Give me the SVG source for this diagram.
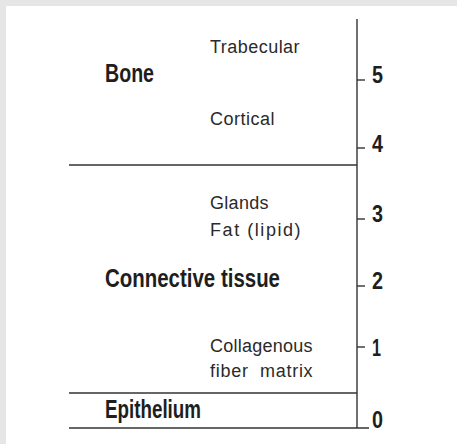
<svg xmlns="http://www.w3.org/2000/svg" width="457" height="444" viewBox="0 0 457 444">
<style>
.bg{fill:#e6e6e6}
.panel{fill:#ffffff}
.ln{stroke:#333333;stroke-width:1.4;fill:none}
.big{font-family:"Liberation Sans",Arial,sans-serif;font-weight:bold;font-size:26px;fill:#1e1e1e}
.num{font-family:"Liberation Sans",Arial,sans-serif;font-weight:bold;font-size:24px;fill:#1e1e1e}
.sm{font-family:"Liberation Sans",Arial,sans-serif;font-size:18px;letter-spacing:0.4px;fill:#2a2a2a;white-space:pre}
</style>
<rect class="bg" x="0" y="0" width="457" height="444"/>
<rect class="panel" x="6" y="6" width="451" height="438"/>
<g id="connectors">
<line class="ln" x1="357" y1="19" x2="357" y2="428"/>
<line class="ln" x1="69" y1="165" x2="357" y2="165"/>
<line class="ln" x1="69" y1="393" x2="357" y2="393"/>
<line class="ln" x1="69" y1="428" x2="369" y2="428"/>
<line class="ln" x1="357" y1="80" x2="365" y2="80"/>
<line class="ln" x1="357" y1="148" x2="365" y2="148"/>
<line class="ln" x1="357" y1="219" x2="365" y2="219"/>
<line class="ln" x1="357" y1="286" x2="365" y2="286"/>
<line class="ln" x1="357" y1="347" x2="365" y2="347"/>
</g>
<g id="scale">
<text class="num" x="372" y="83" textLength="11" lengthAdjust="spacingAndGlyphs">5</text>
<text class="num" x="372" y="152" textLength="11" lengthAdjust="spacingAndGlyphs">4</text>
<text class="num" x="372" y="222" textLength="11" lengthAdjust="spacingAndGlyphs">3</text>
<text class="num" x="372" y="289" textLength="11" lengthAdjust="spacingAndGlyphs">2</text>
<text class="num" x="372" y="356" textLength="9" lengthAdjust="spacingAndGlyphs">1</text>
<text class="num" x="372" y="428" textLength="11" lengthAdjust="spacingAndGlyphs">0</text>
</g>
<g id="bone">
<text class="big" x="105" y="82" textLength="49" lengthAdjust="spacingAndGlyphs">Bone</text>
<text class="sm" x="210" y="53" textLength="90" lengthAdjust="spacing">Trabecular</text>
<text class="sm" x="210" y="125" textLength="65" lengthAdjust="spacing">Cortical</text>
</g>
<g id="connective">
<text class="big" x="105" y="287" textLength="175" lengthAdjust="spacingAndGlyphs">Connective tissue</text>
<text class="sm" x="210" y="209" textLength="59" lengthAdjust="spacing">Glands</text>
<text class="sm" x="210" y="236" textLength="91" lengthAdjust="spacing">Fat (lipid)</text>
<text class="sm" x="210" y="352" textLength="103" lengthAdjust="spacing">Collagenous</text>
<text class="sm" x="210" y="377" textLength="103" lengthAdjust="spacing">fiber  matrix</text>
</g>
<g id="epithelium">
<text class="big" x="105" y="418" textLength="96" lengthAdjust="spacingAndGlyphs">Epithelium</text>
</g>
</svg>
